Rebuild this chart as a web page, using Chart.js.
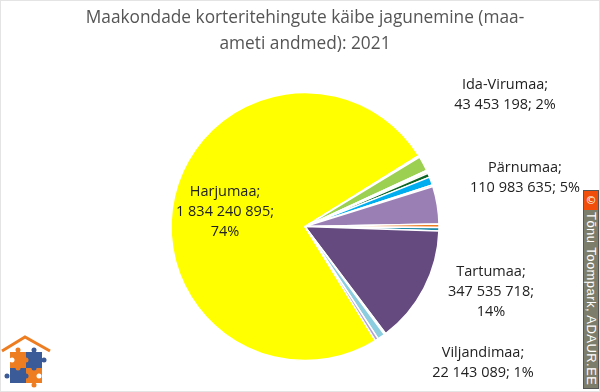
<!DOCTYPE html>
<html>
<head>
<meta charset="utf-8">
<script src="https://cdn.jsdelivr.net/npm/chart.js@4"></script>
<style>
html,body{margin:0;padding:0;background:#fff;}
#wrap{position:relative;width:600px;height:392px;overflow:hidden;}
#frame{position:absolute;left:0;top:0;width:598px;height:390px;border:1px solid #e4e4e4;}
#logo{position:absolute;left:0;top:334px;}
#mark{position:absolute;left:583px;top:190px;width:14px;height:197px;background:#7d7d6b;border:1px solid #555;box-sizing:content-box;}
#mark .c{position:absolute;left:0;top:0;width:14px;height:19px;background:#f04e0a;color:#fff;font:11px "DejaVu Sans";text-align:center;line-height:19px;}
#mark .t{position:absolute;left:14px;top:21px;transform-origin:0 0;transform:rotate(90deg);white-space:nowrap;color:#fff;font:13px/14px "Liberation Sans";letter-spacing:.45px;}
</style>
</head>
<body>
<div id="wrap">
<canvas id="myChart" width="600" height="392"></canvas>
<div id="frame"></div>
<svg id="logo" width="56" height="56" viewBox="0 0 56 56">
 <path d="M2 17 L25 3 L50 17" fill="none" stroke="#ee7d22" stroke-width="3"/>
 <rect x="10" y="18" width="16" height="16" fill="#ee7d22"/>
 <rect x="26" y="18" width="16" height="16" fill="#3a5a98"/>
 <rect x="10" y="34" width="16" height="15" fill="#3a5a98"/>
 <rect x="26" y="34" width="16" height="15" fill="#ee7d22"/>
 <circle cx="18" cy="16" r="2.5" fill="#ee7d22"/>
 <circle cx="34" cy="16" r="2.5" fill="#3a5a98"/>
 <circle cx="44" cy="26" r="2.5" fill="#3a5a98"/>
 <circle cx="7" cy="42" r="2.5" fill="#3a5a98"/>
 <circle cx="34" cy="51" r="2.5" fill="#ee7d22"/>
 <circle cx="12" cy="26" r="2.5" fill="#fff"/>
 <circle cx="26" cy="26" r="2.5" fill="#ee7d22"/>
 <circle cx="26" cy="42" r="2.5" fill="#3a5a98"/>
 <circle cx="18" cy="34" r="2.5" fill="#ee7d22"/>
 <circle cx="34" cy="34" r="2.5" fill="#3a5a98"/>
 <circle cx="39" cy="42" r="2.5" fill="#fff"/>
</svg>
<div id="mark"><div class="c">©</div><div class="t">Tõnu Toompark, ADAUR.EE</div></div>
</div>
<script>
'use strict'

const categories = ['Harjumaa','Hiiumaa','Ida-Virumaa','Jõgevamaa','Järvamaa','Läänemaa','Lääne-Virumaa','Põlvamaa','Pärnumaa','Raplamaa','Saaremaa','Tartumaa','Valgamaa','Viljandimaa','Võrumaa'];
const values = [1834240895,5000000,43453198,4500000,5000000,12000000,24000000,5000000,110983635,10000000,10000000,347535718,4500000,22143089,9500000];
const colors = ['#ffff00','#ffffff','#9bd050','#4f81bd','#f7a823','#0b6623','#00aeef','#e8746c','#9a7fb5','#ee7d22','#1d8aa8','#654a80','#fbd5b5','#8ccde0','#b3a2cf'];
const titleLines = ['Maakondade korteritehingute käibe jagunemine (maa-','ameti andmed): 2021'];

// labels with their own line breaks, same as on the picture
const labelLines = {
    Harjumaa: ['Harjumaa;','1 834 240 895;','74%'],
    'Ida-Virumaa': ['Ida-Virumaa;','43 453 198; 2%'],
    'Pärnumaa': ['Pärnumaa;','110 983 635; 5%'],
    Tartumaa: ['Tartumaa;','347 535 718;','14%'],
    Viljandimaa: ['Viljandimaa;','22 143 089; 1%']
};
const labelAt = {
    Harjumaa: [225,192],
    'Ida-Virumaa': [505,85],
    'Pärnumaa': [525,168],
    Tartumaa: [491,272],
    Viljandimaa: [483,353]
};

const sliceLabels = {
    id: 'sliceLabels',
    afterDraw(chart) {
        const c = chart.ctx;
        c.save();
        c.font = '14.5px "Open Sans"';
        c.fillStyle = '#222';
        c.textAlign = 'center';
        c.textBaseline = 'middle';
        Object.keys(labelLines).forEach(name => {
            labelLines[name].forEach((line, i) => {
                c.fillText(line, labelAt[name][0], labelAt[name][1] + i * 20);
            });
        });
        c.restore();
    }
};

Chart.defaults.animation = false;

new Chart(document.getElementById('myChart'), {
    type: 'pie',
    data: {
        labels: categories,
        datasets: [{
            data: values,
            backgroundColor: colors,
            borderColor: '#fff',
            borderWidth: 1.5,
            radius: 134
        }]
    },
    options: {
        responsive: false,
        rotation: 148.3,
        layout: {padding: {left: 10, right: 0, top: 6, bottom: 6}},
        plugins: {
            legend: {display: false},
            tooltip: {enabled: false},
            title: {
                display: true,
                text: titleLines,
                color: '#555',
                font: {family: '"Open Sans"', size: 17.3, weight: 'normal', lineHeight: 1.45},
                padding: {top: 0, bottom: 11}
            }
        }
    },
    plugins: [sliceLabels]
});
</script>
</body>
</html>
